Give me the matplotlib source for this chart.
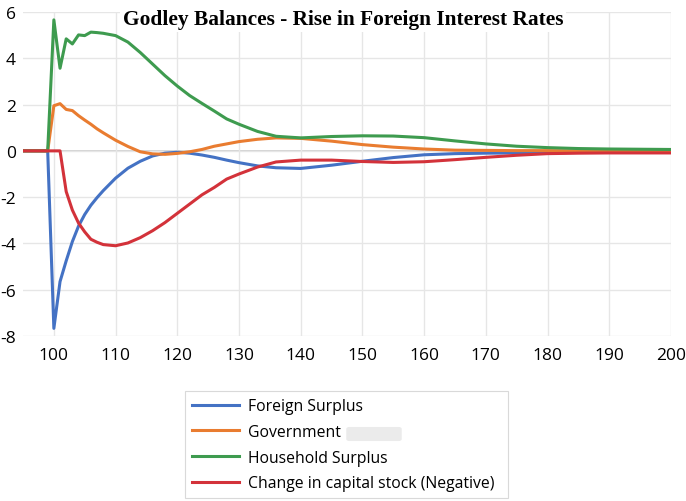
import matplotlib
matplotlib.use("Agg")
import matplotlib.pyplot as plt
from matplotlib.patches import FancyBboxPatch

# Data
periods = [95, 96, 97, 98, 99, 100, 101, 102, 103, 104, 105, 106, 107, 108,
           110, 112, 114, 116, 118, 120, 122, 124, 126, 128, 130, 133, 136,
           140, 145, 150, 155, 160, 165, 170, 175, 180, 185, 190, 195, 200]

foreign = [0, 0, 0, 0, 0, -7.67, -5.65, -4.75, -3.92, -3.25, -2.75, -2.35, -2.02, -1.72,
           -1.18, -0.75, -0.45, -0.22, -0.10, -0.06, -0.10, -0.18, -0.28, -0.40, -0.51, -0.65, -0.73,
           -0.76, -0.62, -0.45, -0.29, -0.17, -0.12, -0.10, -0.09, -0.08, -0.07, -0.06, -0.05, -0.05]

government = [0, 0, 0, 0, 0, 1.95, 2.04, 1.79, 1.74, 1.52, 1.33, 1.15, 0.95, 0.78,
              0.46, 0.19, -0.04, -0.13, -0.15, -0.11, -0.04, 0.06, 0.20, 0.30, 0.40, 0.50, 0.56,
              0.54, 0.42, 0.27, 0.16, 0.08, 0.03, 0.02, 0.01, 0.01, 0.0, 0.0, 0.0, 0.0]

household = [0, 0, 0, 0, 0, 5.66, 3.57, 4.84, 4.62, 5.01, 4.98, 5.13, 5.11, 5.08,
             4.98, 4.70, 4.25, 3.75, 3.25, 2.80, 2.39, 2.05, 1.72, 1.38, 1.15, 0.84, 0.63,
             0.56, 0.62, 0.65, 0.64, 0.57, 0.43, 0.30, 0.20, 0.14, 0.10, 0.08, 0.07, 0.06]

capital = [0, 0, 0, 0, 0, 0, 0, -1.76, -2.56, -3.12, -3.50, -3.82, -3.95, -4.05,
           -4.10, -3.98, -3.75, -3.45, -3.10, -2.70, -2.30, -1.90, -1.58, -1.22, -1.00, -0.70, -0.48,
           -0.40, -0.40, -0.46, -0.50, -0.47, -0.38, -0.28, -0.19, -0.12, -0.10, -0.09, -0.09, -0.09]

labels = ["Foreign Surplus", "Government", "Household Surplus", "Change in capital stock (Negative)"]
colors = ["#4472C4", "#E97C30", "#3E9B4F", "#D3323A"]

plt.rcParams["axes.unicode_minus"] = False
plt.rcParams["font.family"] = ["Open Sans", "DejaVu Sans"]

W, H = 686, 502
fig = plt.figure(figsize=(W / 100, H / 100), dpi=100)
ax = fig.add_axes([23 / W, 1 - 337 / H, (671 - 23) / W, (337 - 13) / H])

series = [foreign, government, household, capital]
for vals, lab, col in zip(series, labels, colors):
    ax.plot(periods, vals, color=col, linewidth=2.2, label=lab, zorder=3)

ax.set_xlim(95, 200)
ax.set_ylim(-8, 6)
ax.set_xticks(range(100, 201, 10))
ax.set_yticks(range(-8, 7, 2))
ax.grid(True, color="#e6e6e6", linewidth=1, zorder=0)
ax.axhline(0, color="#cfcfcf", linewidth=1.3, zorder=1)
for s in ax.spines.values():
    s.set_visible(False)
ax.tick_params(axis="both", length=0, labelsize=12.5, colors="#000000")
ax.tick_params(axis="y", pad=5)
ax.tick_params(axis="x", pad=8)

# Title
fig.text(343 / W, 1 - 20 / H, "Godley Balances - Rise in Foreign Interest Rates",
         family="Liberation Serif", fontweight="bold", fontsize=15.4,
         ha="center", va="center",
         bbox=dict(facecolor="white", edgecolor="none", pad=2))

# Legend
handles, labs = ax.get_legend_handles_labels()
leg = fig.legend(handles, labs, loc="upper left",
                 bbox_to_anchor=(185 / W, 0, (508 - 185) / W, 1 - 392 / H),
                 mode="expand", borderaxespad=0, fontsize=11.3,
                 handlelength=3.0, handletextpad=0.57, borderpad=0.45,
                 labelspacing=0.62, fancybox=False, framealpha=1,
                 edgecolor="#d9d9d9")
leg.get_frame().set_linewidth(0.8)

# blurred redaction next to "Government"
fig.patches.append(FancyBboxPatch((349 / W, 1 - 440 / H), 50 / W, 10 / H,
                                  boxstyle="round,pad=0.004", transform=fig.transFigure,
                                  facecolor="#ebebeb", edgecolor="none", zorder=10))

fig.savefig("out.png", dpi=100)
